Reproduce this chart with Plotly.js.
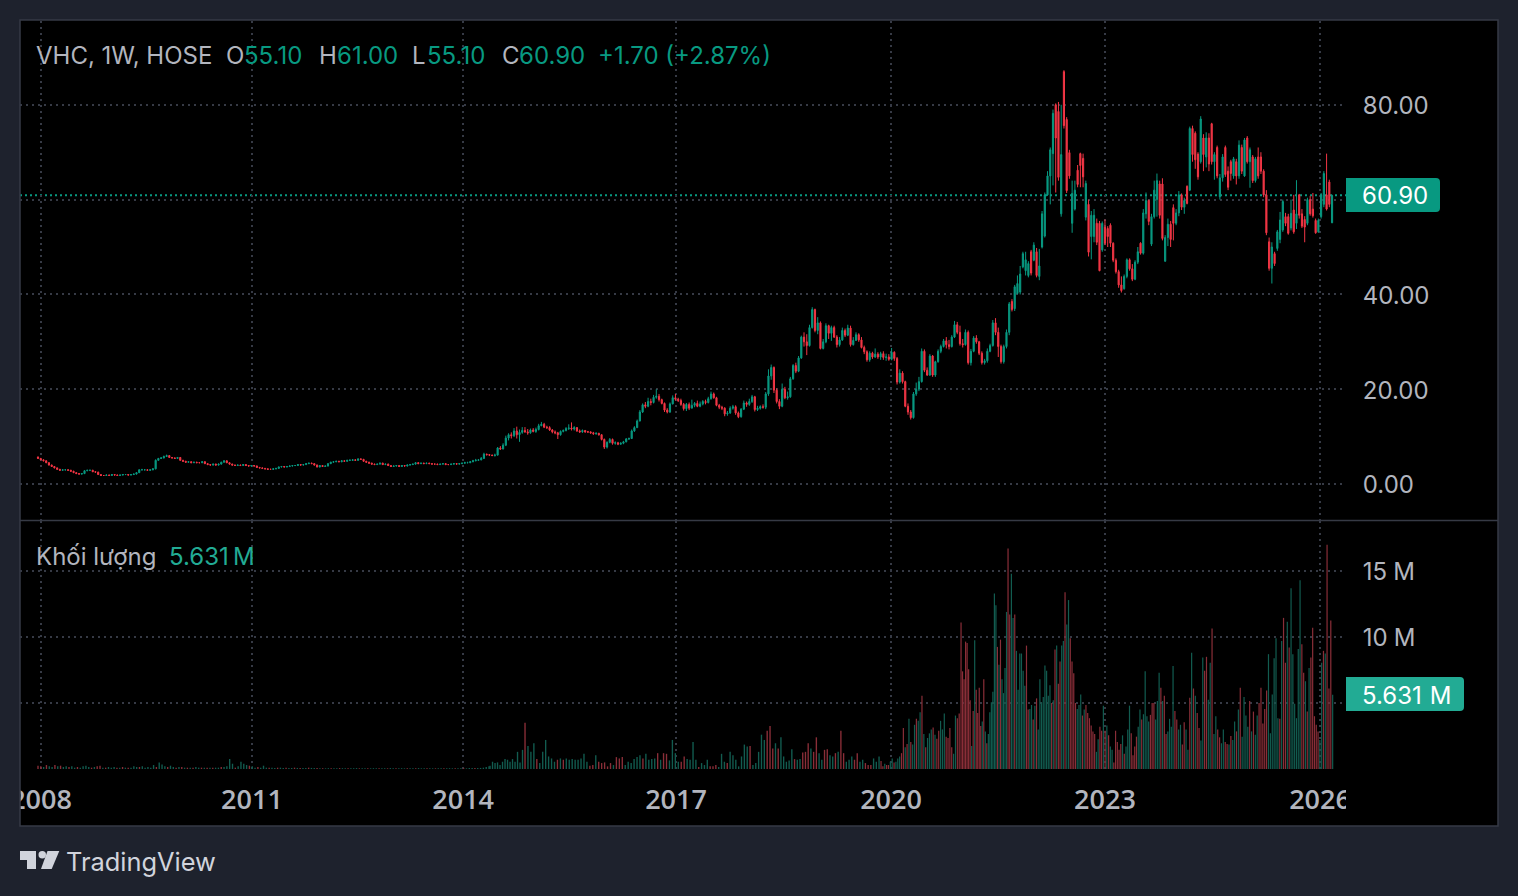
<!DOCTYPE html>
<html><head><meta charset="utf-8">
<script src="https://cdn.plot.ly/plotly-3.0.1.min.js"></script>
<style>html,body{margin:0;padding:0;background:#1e222d;overflow:hidden}#chart{width:1518px;height:896px}</style>
</head><body><div id="chart"></div>
<script>
// Candles, one per two weeks
const opens=[5.7,5.4,5.1,4.9,4.5,4.0,3.7,3.4,3.1,2.9,
3.0,3.0,2.9,2.7,2.4,2.2,2.1,2.2,2.8,2.9,
2.9,2.6,2.5,2.0,1.8,1.8,1.9,1.8,2.0,1.9,
1.8,1.9,2.0,2.0,1.9,2.0,2.1,2.4,3.0,3.0,
3.0,2.9,3.0,3.2,5.0,5.4,5.5,5.8,6.0,5.6,
5.5,5.4,5.6,5.0,4.8,4.6,4.7,4.5,4.6,4.5,
4.5,4.7,4.3,4.1,4.0,4.2,4.0,4.2,4.6,4.9,
4.5,4.2,4.0,3.9,4.0,3.9,4.1,3.9,3.8,3.9,
3.8,3.5,3.4,3.3,3.2,3.1,3.1,3.2,3.3,3.6,
3.7,3.6,3.7,3.8,3.9,3.9,4.1,4.0,4.1,4.3,
4.4,4.3,4.0,3.6,3.9,3.7,3.8,4.3,4.6,4.7,
4.8,4.7,4.9,4.8,5.0,5.0,5.1,5.0,5.3,5.2,
4.8,4.6,4.4,4.2,4.1,4.2,4.4,4.1,4.2,3.9,
3.7,3.8,3.9,3.7,3.9,3.8,4.0,4.1,4.2,4.5,
4.3,4.4,4.3,4.4,4.3,4.2,4.2,4.1,4.2,4.3,
4.1,4.1,4.2,4.3,4.2,4.3,
4.4,4.5,4.5,4.7,4.9,5.0,5.1,5.4,6.3,6.2,
6.1,6.0,6.1,7.6,7.4,8.2,9.7,10.4,10.2,11.2,
10.4,10.9,11.3,11.0,10.8,11.4,11.1,11.5,12.3,12.6,
12.0,11.9,11.4,11.0,10.8,10.4,11.1,11.3,11.7,11.8,
11.6,11.9,11.2,11.0,11.3,11.0,11.0,10.8,10.6,10.7,
10.4,9.4,7.8,8.8,9.4,8.6,8.7,8.4,8.6,8.9,
9.5,9.6,11.2,11.9,13.3,15.2,16.7,16.4,17.4,17.2,
18.3,18.5,17.8,17.0,15.6,15.2,16.9,18.2,17.9,17.6,
16.8,15.9,16.8,16.0,16.6,17.0,16.4,16.9,17.4,17.2,
18.0,19.0,18.2,16.6,16.2,16.0,14.8,15.0,16.0,16.3,
15.0,14.2,15.8,17.1,16.8,17.4,18.4,15.7,16.0,16.3,
16.2,19.0,22.8,24.6,19.8,17.4,16.4,20.0,18.2,18.4,
22.2,25.0,23.8,26.6,31.0,30.0,29.2,33.0,36.8,32.4,
34.0,28.6,30.0,33.4,31.8,33.0,31.0,29.4,30.4,32.4,
31.4,32.9,29.4,30.3,31.5,30.4,28.8,27.9,26.2,27.6,
26.8,27.4,26.8,27.5,26.7,26.8,26.3,27.8,26.5,21.5,
23.4,21.6,16.4,15.2,14.0,19.0,20.0,21.6,28.0,24.0,
23.0,27.0,23.0,25.8,28.0,29.0,30.2,29.4,29.0,31.0,
33.6,32.0,29.6,29.4,32.0,25.6,28.0,30.8,30.0,27.6,
25.6,26.0,28.0,29.2,34.0,32.0,29.0,25.8,29.0,32.0,
38.5,37.0,40.2,40.5,45.8,45.0,44.0,49.0,47.2,49.0,
43.8,50.0,52.3,61.0,65.0,69.7,80.0,78.6,57.0,87.0,
76.9,69.9,55.0,58.0,66.2,69.7,68.7,56.3,59.0,52.2,
52.2,55.0,55.0,49.4,54.2,53.9,54.6,50.8,47.2,44.8,
42.0,41.2,43.8,47.3,45.4,43.2,46.8,50.8,48.7,57.0,
59.8,50.6,56.4,60.0,63.3,63.3,47.0,52.0,54.8,58.3,
55.0,57.2,61.0,58.4,62.8,62.0,75.0,74.0,69.6,68.0,
73.0,69.0,73.0,76.0,68.0,71.0,60.6,64.6,71.0,66.0,
68.0,65.0,68.0,65.0,71.0,65.0,73.0,68.0,69.0,64.0,
69.0,69.0,66.0,61.0,51.1,45.5,48.6,49.7,51.6,53.6,
56.4,56.4,54.0,57.8,55.0,61.0,57.0,55.8,55.0,60.0,
58.0,55.6,53.2,56.4,59.0,61.0,63.7,55.1];
const highs=[5.8,5.5,5.2,5.0,4.6,4.1,3.8,3.5,3.2,3.1,
3.1,3.1,3.0,2.8,2.5,2.3,2.3,2.9,3.0,3.0,
3.0,2.7,2.6,2.1,1.9,2.0,2.0,2.1,2.1,2.0,
2.0,2.1,2.1,2.1,2.1,2.2,2.5,3.1,3.2,3.1,
3.1,3.1,3.3,5.2,5.5,5.7,6.0,6.2,6.1,5.7,
5.6,5.7,5.7,5.1,4.9,4.8,4.8,4.7,4.7,4.6,
4.8,4.8,4.4,4.2,4.3,4.3,4.3,4.7,5.0,5.0,
4.6,4.3,4.1,4.1,4.1,4.2,4.2,4.0,4.0,4.0,
3.9,3.6,3.5,3.4,3.3,3.2,3.3,3.4,3.7,3.8,
3.8,3.8,3.9,4.0,4.0,4.2,4.2,4.2,4.4,4.5,
4.5,4.4,4.1,4.0,4.0,3.9,4.4,4.7,4.8,4.9,
4.9,5.0,5.0,5.1,5.2,5.2,5.2,5.4,5.4,5.3,
4.9,4.7,4.5,4.3,4.3,4.5,4.5,4.3,4.3,4.0,
3.9,4.0,4.0,4.0,4.0,4.1,4.2,4.3,4.6,4.6,
4.5,4.5,4.5,4.5,4.4,4.3,4.3,4.3,4.4,4.4,
4.2,4.3,4.4,4.4,4.4,4.5,
4.7,4.7,4.8,5.1,5.3,5.2,5.7,6.6,6.4,6.3,
6.2,6.4,7.8,8.0,8.6,10.2,10.7,10.9,11.8,12.1,
11.5,12.0,12.0,11.6,11.7,11.8,11.9,12.7,13.1,12.9,
12.3,12.2,11.6,11.3,11.0,11.3,11.5,12.0,12.6,13.0,
12.2,12.0,11.5,11.5,11.4,11.2,11.1,11.0,10.9,10.8,
10.5,9.6,9.0,9.7,9.6,9.0,8.9,8.8,9.1,9.7,
9.8,11.5,12.2,13.6,15.6,17.0,17.3,18.2,18.0,18.8,
20.0,19.0,18.0,17.2,16.0,17.2,18.7,19.0,18.2,18.0,
17.1,17.1,17.2,17.8,17.3,17.6,17.4,17.7,17.8,18.4,
19.5,19.3,18.4,16.9,16.5,16.2,15.4,16.4,16.7,16.6,
15.3,16.0,17.6,17.4,18.0,18.8,18.6,16.5,16.6,16.8,
19.4,24.2,25.2,24.8,20.2,17.9,21.2,20.5,19.5,22.6,
25.3,25.6,27.0,31.3,32.0,31.6,33.6,37.3,37.0,35.2,
34.3,30.6,33.9,33.6,33.4,33.4,31.4,31.0,33.0,32.8,
33.6,33.4,31.0,32.0,31.8,31.0,29.2,28.2,28.0,27.9,
28.6,27.8,27.9,28.0,27.5,27.4,28.7,28.0,26.8,24.2,
23.8,21.8,17.0,15.6,19.4,21.4,22.6,28.6,28.4,24.6,
27.4,27.2,26.0,28.4,29.4,30.6,31.0,30.4,31.4,34.4,
34.2,33.4,30.6,32.6,32.4,28.5,31.2,31.4,30.2,28.0,
26.4,28.6,29.6,34.6,35.0,33.0,29.4,29.4,32.6,38.4,
39.0,42.0,44.0,46.0,49.0,49.0,47.0,49.4,51.0,49.8,
49.6,57.6,61.5,66.0,71.0,79.0,80.3,80.6,80.0,87.3,
77.4,70.5,64.0,64.0,67.3,69.9,69.7,64.0,60.0,57.6,
58.0,56.0,55.5,55.4,55.8,54.4,55.0,51.0,47.6,45.2,
43.8,44.2,47.6,47.6,46.4,47.2,50.0,51.0,58.0,61.5,
60.0,57.0,64.0,65.5,64.0,64.5,52.5,56.0,55.5,59.0,
58.0,61.8,61.3,60.4,63.0,75.4,75.6,74.4,70.0,77.6,
73.8,74.2,74.0,76.2,70.0,71.4,65.4,69.6,71.4,67.0,
68.4,69.0,68.6,72.5,71.6,73.0,73.4,71.0,69.4,69.0,
71.0,70.0,66.4,62.0,52.0,51.0,49.0,53.6,57.4,60.0,
57.2,57.0,60.0,61.0,64.1,61.2,58.0,56.5,60.4,60.8,
61.4,56.0,56.0,61.4,66.0,69.7,64.2,61.0];
const lows=[5.3,5.0,4.8,4.4,3.9,3.6,3.3,3.0,2.8,2.8,
2.9,2.8,2.6,2.3,2.1,2.0,2.0,2.1,2.7,2.8,
2.5,2.4,1.9,1.7,1.7,1.7,1.7,1.7,1.8,1.7,
1.7,1.8,1.9,1.8,1.8,1.9,2.0,2.3,2.9,2.9,
2.8,2.8,2.9,3.1,4.9,5.3,5.4,5.7,5.5,5.4,
5.3,5.3,4.9,4.7,4.5,4.5,4.4,4.4,4.4,4.4,
4.4,4.2,4.0,3.9,3.9,3.9,3.9,4.1,4.5,4.4,
4.1,3.9,3.8,3.8,3.8,3.8,3.8,3.7,3.7,3.7,
3.4,3.3,3.2,3.1,3.0,3.0,3.0,3.1,3.2,3.5,
3.5,3.5,3.6,3.7,3.8,3.8,3.9,3.9,4.0,4.2,
4.2,3.9,3.5,3.5,3.6,3.6,3.7,4.2,4.5,4.6,
4.6,4.6,4.7,4.7,4.9,4.9,4.9,4.9,5.1,4.7,
4.5,4.3,4.1,4.0,4.0,4.1,4.0,4.0,3.8,3.6,
3.6,3.7,3.6,3.6,3.7,3.7,3.9,4.0,4.1,4.2,
4.2,4.2,4.2,4.2,4.1,4.1,4.0,4.0,4.1,4.0,
4.0,4.0,4.1,4.1,4.1,4.2,
4.3,4.4,4.4,4.6,4.8,4.9,5.0,5.3,6.0,5.9,
5.9,5.8,6.0,7.2,7.3,8.0,9.2,9.6,9.9,9.6,
8.9,10.6,10.8,10.4,10.6,10.9,10.8,11.3,12.2,11.8,
11.6,11.2,10.7,10.5,9.5,10.2,10.9,11.1,11.4,11.3,
11.3,11.0,10.8,10.8,10.8,10.8,10.6,10.4,10.4,10.2,
9.2,7.4,7.5,8.6,8.3,8.3,8.2,8.3,8.4,8.8,
9.3,9.5,11.0,11.8,13.2,15.0,16.0,16.2,16.6,17.0,
18.0,17.4,16.8,15.2,14.9,15.0,16.8,17.6,17.3,16.5,
15.5,15.4,15.6,16.0,16.2,16.2,16.2,16.6,16.8,17.0,
17.8,18.0,16.4,15.8,15.6,14.3,14.4,14.8,15.7,14.6,
13.9,14.0,15.6,16.3,16.5,17.1,15.3,15.4,15.7,15.9,
15.8,18.6,22.0,19.2,17.0,15.8,16.2,17.9,17.8,18.2,
22.0,23.4,23.6,26.4,29.0,27.2,29.0,32.8,32.0,31.6,
28.4,28.4,29.7,30.6,30.2,30.8,28.8,29.0,30.2,31.0,
31.2,29.0,29.2,30.2,30.0,28.6,27.4,25.8,25.8,26.4,
26.6,26.4,26.2,26.2,26.0,26.0,26.1,26.0,21.0,21.2,
21.2,16.2,14.6,13.6,13.8,18.6,19.6,21.4,23.6,22.8,
22.8,22.6,22.6,25.6,27.6,28.8,28.6,28.4,28.8,30.8,
31.6,29.2,28.8,29.2,25.2,25.0,27.8,29.6,27.2,25.2,
25.2,25.6,27.8,29.0,31.4,26.8,25.4,25.4,28.6,31.4,
36.4,36.5,40.0,40.0,45.5,44.0,43.6,44.0,47.0,43.6,
43.0,49.7,52.0,60.8,59.0,63.0,61.5,64.0,56.4,75.0,
61.4,64.4,53.0,57.7,62.6,62.6,62.6,55.6,48.0,47.4,
51.0,50.4,44.9,49.0,50.4,50.0,50.0,46.8,44.4,41.4,
40.4,41.0,43.4,45.0,42.8,43.0,46.4,48.4,48.4,56.0,
54.6,50.2,56.0,56.4,56.0,51.4,46.9,50.2,50.0,51.4,
54.6,56.5,57.8,57.0,59.0,61.8,68.0,66.5,64.2,67.6,
66.0,66.8,66.0,67.4,64.2,64.5,60.0,63.8,64.8,62.0,
64.0,64.4,63.2,64.4,65.4,64.8,67.6,62.5,63.5,63.6,
64.4,65.4,60.5,52.5,45.0,42.3,46.0,49.2,50.8,53.2,
54.4,52.6,53.5,52.8,53.8,56.0,54.0,51.0,54.6,56.6,
56.2,52.8,53.0,56.0,58.4,57.7,58.4,55.1];
const closes=[5.4,5.1,4.9,4.5,4.0,3.7,3.4,3.1,2.9,3.0,
3.0,2.9,2.7,2.4,2.2,2.1,2.2,2.8,2.9,2.9,
2.6,2.5,2.0,1.8,1.8,1.9,1.8,2.0,1.9,1.8,
1.9,2.0,2.0,1.9,2.0,2.1,2.4,3.0,3.0,3.0,
2.9,3.0,3.2,5.0,5.4,5.5,5.8,6.0,5.6,5.5,
5.4,5.6,5.0,4.8,4.6,4.7,4.5,4.6,4.5,4.5,
4.7,4.3,4.1,4.0,4.2,4.0,4.2,4.6,4.9,4.5,
4.2,4.0,3.9,4.0,3.9,4.1,3.9,3.8,3.9,3.8,
3.5,3.4,3.3,3.2,3.1,3.1,3.2,3.3,3.6,3.7,
3.6,3.7,3.8,3.9,3.9,4.1,4.0,4.1,4.3,4.4,
4.3,4.0,3.6,3.9,3.7,3.8,4.3,4.6,4.7,4.8,
4.7,4.9,4.8,5.0,5.0,5.1,5.0,5.3,5.2,4.8,
4.6,4.4,4.2,4.1,4.2,4.4,4.1,4.2,3.9,3.7,
3.8,3.9,3.7,3.9,3.8,4.0,4.1,4.2,4.5,4.3,
4.4,4.3,4.4,4.3,4.2,4.2,4.1,4.2,4.3,4.1,
4.1,4.2,4.3,4.2,4.3,4.4,
4.5,4.5,4.7,4.9,5.0,5.1,5.4,6.3,6.2,6.1,
6.0,6.1,7.6,7.4,8.2,9.7,10.4,10.2,11.2,10.4,
10.9,11.3,11.0,10.8,11.4,11.1,11.5,12.3,12.6,12.0,
11.9,11.4,11.0,10.8,10.4,11.1,11.3,11.7,11.8,11.6,
11.9,11.2,11.0,11.3,11.0,11.0,10.8,10.6,10.7,10.4,
9.4,7.8,8.8,9.4,8.6,8.7,8.4,8.6,8.9,9.5,
9.6,11.2,11.9,13.3,15.2,16.7,16.4,17.4,17.2,18.3,
18.5,17.8,17.0,15.6,15.2,16.9,18.2,17.9,17.6,16.8,
15.9,16.8,16.0,16.6,17.0,16.4,16.9,17.4,17.2,18.0,
19.0,18.2,16.6,16.2,16.0,14.8,15.0,16.0,16.3,15.0,
14.2,15.8,17.1,16.8,17.4,18.4,15.7,16.0,16.3,16.2,
19.0,22.8,24.6,19.8,17.4,16.4,20.0,18.2,18.4,22.2,
25.0,23.8,26.6,31.0,30.0,29.2,33.0,36.8,32.4,34.0,
28.6,30.0,33.4,31.8,33.0,31.0,29.4,30.4,32.4,31.4,
32.9,29.4,30.3,31.5,30.4,28.8,27.9,26.2,27.6,26.8,
27.4,26.8,27.5,26.7,26.8,26.3,27.8,26.5,21.5,23.4,
21.6,16.4,15.2,14.0,19.0,20.0,21.6,28.0,24.0,23.0,
27.0,23.0,25.8,28.0,29.0,30.2,29.4,29.0,31.0,33.6,
32.0,29.6,29.4,32.0,25.6,28.0,30.8,30.0,27.6,25.6,
26.0,28.0,29.2,34.0,32.0,29.0,25.8,29.0,32.0,38.0,
36.8,41.6,42.3,44.3,48.6,47.3,46.5,44.5,50.4,44.0,
46.0,57.0,61.0,65.0,70.5,78.2,73.0,64.7,69.5,75.6,
61.9,65.0,61.3,62.0,63.2,67.2,64.8,63.4,48.9,56.7,
56.7,51.0,45.0,55.0,50.8,52.2,50.8,47.2,44.8,42.0,
40.8,43.8,47.3,45.4,43.2,46.8,49.0,48.7,57.2,59.8,
55.4,56.4,62.0,64.0,56.7,51.8,52.0,54.8,51.6,55.0,
57.2,61.0,58.4,59.8,59.2,75.0,69.5,68.4,64.8,77.0,
69.5,73.0,67.5,68.0,69.5,65.0,64.6,69.0,65.3,62.6,
65.5,68.6,65.0,71.5,66.0,72.6,68.0,70.5,64.0,68.6,
65.0,66.0,61.0,53.0,45.5,50.0,46.5,53.2,55.7,59.6,
55.0,52.9,57.1,53.2,57.0,56.7,54.4,54.2,60.0,57.0,
56.6,53.0,55.6,61.0,65.5,58.0,59.0,60.9];

// Volume in millions; a negative sign marks a falling bar
const volumesEarly=[-.25,-.2,.15,-.3,.2,.15,-.3,.2,-.25,.15,.2,-.15,.2,.1,-.15,.1,.2,.25,.15,-.1,.15,-.2,-.25,.1,-.1,.15,.1,.15,-.1,.1,-.15,.1,-.1,.1,
.2,.15,-.15,.2,.1,.15,.1,.3,-.15,.5,.35,.2,-.15,
.25,.15,-.1,.15,-.15,.1,-.1,.1,-.1,.15,.1,-.1,.1,-.1,.1,-.1,.1,.1,-.15,.15,.2,
.75,.4,-.1,.2,.55,.4,.3,-.25,.2,.1,-.15,.1,.25,
.1,-.1,.1,.08,-.1,.1,.08,-.1,.08,.08,-.1,.08,-.08,.08,.08,-.1,.08,.08,-.08,
.06,-.06,.05,.06,-.05,.06,.05,-.07,.06,.05,-.06,.06,.05,.07,-.05,.06,.05,-.06,.05,.06,.05,-.06,.05,.06,-.05,.07,.05,-.06,.05,.06,.05,-.06,.05,.05,-.06,.07,.05,.06,-.05,.06,.05,-.05,.06,.05,-.06,.05,.06,.05,-.05,.06,.05,-.06,.05,.08,.07,-.08,.07,.08,
.1,.15,.2];
const volumesMid=[.25,.55,.45,.5,.3,.55,.75,.7,.55,.75,.55,1.3,.5,1.45,-3.5,1.75,1.3,1.95,-.75,.45,1.3,2.2,.95,.8,.55,-.7,.8,-.7,.8,.7,.75,.7,.7,.8,1.15,.55,-.25,-.3,1.05,-.55,-.45,-.5,-.2,-.45,.3,-.9,-.8,-.9,.3,.55,.45,.75,.9,1.05,-.8,1.15,.7,.75,.8,-1.2,.7,-1.2,-1.15,.65,2.2,1.2,.55,-.55,-.95,.75,.7,2.05,.7,-.15,.45,.3,.7,-.2,-.2,-.3,.15,1.15,.55,-.45,1.3,1.05,.7,.2,.95,1.85,1.7,-1.75,.3,.45,1.3,2.6,2.2,-2.9,-3.25,-1.55,1.95,-1.55,2.4,.95,.55,.65,1.5,-.75,.7,.75,-1.25,-1.3,-1.95,1.55,-1.3,-2.4,1.2,.7,-1.45,-1.5,1.05,.95,-1.2,1.3,-2.9,-1.2,.55,.7,.95,-.7,-1.2,.55,.7,-.45,-.3,-.3,.8,.55,.95];
const volumesRecent=[-0.6,-0.2,0.4,-0.3,-0.3,0.55,0.8,-0.5,0.55,0.8,0.95,-1.2,-3.1,1.65,-1.9,3.8,
-2.05,1.85,3.35,-3.8,3.65,4.3,-5.55,2.65,-1.65,2.35,2.7,3.0,-3.15,2.6,-2.3,-2.9,3.65,3.0,4.2,-2.45,-2.35,-3.1,-1.65,1.15,4.05,-3.85,-4.2,-11.1,-7.4,-6.8,-9.65,-9.55,-7.55,-5.2,1.75,-4.4,9.75,-6.0,-4.25,-6.15,-3.25,3.6,-6.8,2.85,-1.95,2.65,4.3,5.05,5.85,13.3,12.4,-9.25,7.9,-9.8,6.8,5.75,7.65,11.9,-16.7,-11.7,14.8,11.45,-11.7,8.95,6.0,8.75,8.75,7.45,6.3,-9.35,-4.5,4.55,4.85,-3.75,4.8,-5.35,3.0,6.8,5.05,5.45,7.85,7.45,5.55,6.35,-5.0,5.2,-9.05,9.35,-6.45,-8.15,9.35,9.7,-13.4,10.95,12.8,-9.9,-8.15,-7.25,-5.0,4.55,4.85,5.65,-4.05,4.5,-4.85,-4.25,-3.85,-3.3,-2.85,-2.65,1.3,2.25,-3.2,-2.9,4.8,-2.9,3.3,-2.55,1.7,1.45,-0.5,-2.9,-2.05,-1.45,-1.9,2.55,-1.15,1.7,3.0,4.8,-2.7,-1.05,-1.7,-2.45,3.2,4.5,-3.75,4.15,7.4,4.0,3.6,-4.1,-5.0,-5.0,3.75,5.15,7.3,-6.15,5.15,-5.55,-2.65,2.85,3.8,3.2,7.8,-4.4,-3.75,3.0,3.35,-1.85,-3.55,3.0,1.45,-5.4,8.8,-6.1,5.55,-4.25,-3.1,2.15,8.45,-7.45,-8.5,5.25,8.05,-10.65,2.65,4.0,-3.0,-2.4,1.95,3.0,-2.05,-1.9,1.85,-2.5,2.2,3.6,-2.85,4.5,-6.15,2.45,5.45,4.05,3.2,-5.15,2.85,-4.35,2.6,4.05,-5.0,-6.15,-3.45,-4.55,-5.95,8.7,2.7,5.65,8.4,9.9,3.85,-3.8,9.7,-11.45,-8.05,11.15,-9.2,13.7,8.7,4.95,3.85,9.1,14.3,-9.45,-7.3,6.65,-4.35,7.65,-8.45,-10.7,-4.0,-3.35,-2.85,2.2,8.05,-8.95,8.75,-17.0,-6.1,-11.25,5.631];

const yearLabels=["2008","2011","2014","2017","2020","2023","2026"];
const yearBars=[1.1,78.2,155.4,233.2,311.8,390,468.6];
const priceTicks=[0,20,40,60,80];
const priceTickText=["0.00","20.00","40.00","","80.00"];
const volumeTicks=[5,10,15];
const volumeTickText=["","10\u2005M","15\u2005M"];
const lastPrice=60.9;

const W=1518,H=896;
const px=x=>x/W, py=y=>1-y/H;
const barOf=x=>(x-38)/2.7357;
const BG='#1e222d',UP='#089981',DOWN='#f23645',VUP='#125c50',VDOWN='#8a2e38',TXT='#b2b5be',FONT='Inter, sans-serif';
const path=pts=>pts.map((p,i)=>(i?'L':'M')+px(p[0]).toFixed(5)+' '+py(p[1]).toFixed(5)).join(' ')+' Z';
const rounded=(x0,x1,y0,y1,r)=>`M${px(x0)} ${py(y0)} L${px(x1-r)} ${py(y0)} Q${px(x1)} ${py(y0)} ${px(x1)} ${py(y0+r)} L${px(x1)} ${py(y1-r)} Q${px(x1)} ${py(y1)} ${px(x1-r)} ${py(y1)} L${px(x0)} ${py(y1)} Z`;
const rect=(x0,x1,y0,y1,fill,layer,line)=>({type:'rect',xref:'paper',yref:'paper',x0:px(x0),x1:px(x1),y0:py(y0),y1:py(y1),fillcolor:fill,layer:layer,line:line||{width:0}});

// Bars sit evenly between landmark bars (first, tall peaks, last) whose place is known from the picture
function volumeTrace(values,startX,peaks,endX,widthBars){
  const marks=[[0,barOf(startX)]].concat(peaks.map(m=>[values.indexOf(m[0]),barOf(m[1])]),[[values.length-1,barOf(endX)]]);
  const place=i=>{
    let k=0; while(k<marks.length-2 && i>marks[k+1][0]) k++;
    const a=marks[k],b=marks[k+1];
    return a[1]+(i-a[0])*(b[1]-a[1])/(b[0]-a[0]);
  };
  return {type:'bar',xaxis:'x',yaxis:'y2',x:values.map((_,i)=>place(i)),y:values.map(Math.abs),width:widthBars,
    marker:{color:values.map(v=>v<0?VDOWN:VUP),line:{width:0}},hoverinfo:'skip'};
}
const traces=[
  volumeTrace(volumesEarly,38,[],489,0.5),
  volumeTrace(volumesMid,490,[[-3.5,525],[2.05,693],[-3.25,770]],879,0.5),
  volumeTrace(volumesRecent,881,[[-11.1,961],[-16.7,1008],[-13.4,1065],[7.8,1173],[-10.65,1212],[13.7,1291],[-17.0,1327]],1332.6,0.44),
  {type:'candlestick',xaxis:'x',yaxis:'y',x:opens.map((_,i)=>i),open:opens,high:highs,low:lows,close:closes,
   increasing:{line:{color:UP,width:1},fillcolor:UP},decreasing:{line:{color:DOWN,width:1},fillcolor:DOWN},hoverinfo:'skip'}
];

const headerBits=[
 ["VHC, 1W, HOSE",35,TXT],["O",225,TXT],["55.10",243,UP],["H",318,TXT],["61.00",336,UP],["L",411,TXT],["55.10",426,UP],
 ["C",501,TXT],["60.90",518,UP],["+1.70 (+2.87%)",597,UP]];
const note=(text,x,y,color,size,anchor)=>({xref:'paper',yref:'paper',x:px(x),y:py(y),text:text,showarrow:false,xanchor:anchor||'left',yanchor:'middle',
  font:{family:FONT,size:size||24,color:color},borderpad:0});
const annotations=headerBits.map(b=>note(b[0],b[1],55.5,b[2]));
annotations.push(note("Khối lượng",35,556.5,TXT),note("5.631\u2009M",168,556.5,'#22ab94'));
annotations.push(note("60.90",1361,195.5,'#ffffff'),note("5.631\u2004M",1361,695,'#ffffff'));
annotations.push(note("TradingView",65,861,'#d1d4dc',25.4));

const borderLine={color:'#363a45',width:1.5};
const shapes=[
  rect(20,1498,20,826,'#000000','below',{width:0}),
  {type:'line',xref:'paper',yref:'y',x0:px(20),x1:px(1346),y0:lastPrice,y1:lastPrice,layer:'below',line:{color:UP,width:2,dash:'2px,3px'}},
  rect(0,20,775,826,BG,'above'),
  rect(1346,1497,775,825,'#000000','above'),
  rect(20,1498,20,826,'rgba(0,0,0,0)','above',borderLine),
  {type:'line',xref:'paper',yref:'paper',x0:px(20),x1:px(1498),y0:py(520.5),y1:py(520.5),layer:'above',line:borderLine},
  {type:'path',xref:'paper',yref:'paper',path:rounded(1346,1440,178,212,4),fillcolor:UP,line:{width:0},layer:'above'},
  {type:'path',xref:'paper',yref:'paper',path:rounded(1346,1464,677,711,4),fillcolor:'#22ab94',line:{width:0},layer:'above'},
  {type:'path',xref:'paper',yref:'paper',path:path([[20,851],[36,851],[36,869],[27,869],[27,860],[20,860]]),fillcolor:'#d1d4dc',line:{width:0},layer:'above'},
  {type:'circle',xref:'paper',yref:'paper',x0:px(38.5),x1:px(46),y0:py(851),y1:py(858.5),fillcolor:'#d1d4dc',line:{width:0},layer:'above'},
  {type:'path',xref:'paper',yref:'paper',path:path([[47.5,851],[59.3,851],[51.7,869],[41,869]]),fillcolor:'#d1d4dc',line:{width:0},layer:'above'}
];

const grid={showgrid:true,gridcolor:'#363a45',gridwidth:2,griddash:'2px,4px',zeroline:false,showline:false};
const yTicks={side:'right',anchor:'x',ticks:'outside',ticklen:11,tickcolor:'rgba(0,0,0,0)',tickmode:'array',ticklabelshift:1,tickfont:{family:FONT,size:24,color:TXT}};
const layout={
  width:W,height:H,margin:{l:0,r:0,t:0,b:0},paper_bgcolor:BG,plot_bgcolor:'rgba(0,0,0,0)',showlegend:false,hovermode:false,
  barmode:'overlay',boxmode:'overlay',boxgap:0.4,
  xaxis:Object.assign({},grid,{domain:[px(20),px(1346)],range:[-6.58,478.1],anchor:'y2',rangeslider:{visible:false},tickmode:'array',tickvals:yearBars,ticktext:yearLabels,
    ticks:'outside',ticklen:7,tickcolor:'rgba(0,0,0,0)',tickfont:{family:'"Open Sans", sans-serif',size:27,color:TXT,weight:600}}),
  yaxis:Object.assign({},grid,yTicks,{domain:[py(520),py(21)],range:[-7.59,97.68],tickvals:priceTicks,ticktext:priceTickText}),
  yaxis2:Object.assign({},grid,yTicks,{domain:[py(769),py(521)],range:[0,18.79],tickvals:volumeTicks,ticktext:volumeTickText}),
  shapes:shapes,annotations:annotations
};
Plotly.newPlot('chart',traces,layout,{staticPlot:true,displayModeBar:false});
</script></body></html>
